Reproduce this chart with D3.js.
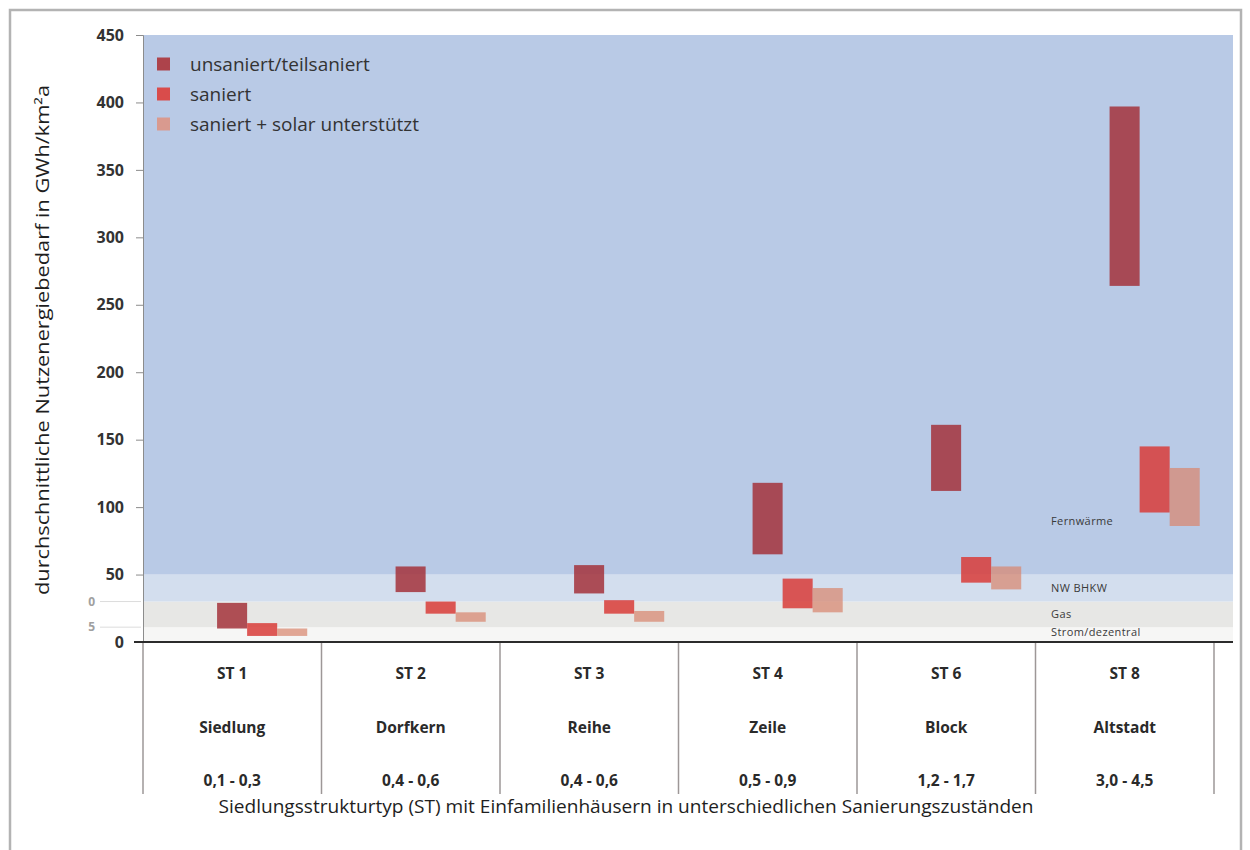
<!DOCTYPE html>
<html>
<head>
<meta charset="utf-8">
<script src="https://cdn.jsdelivr.net/npm/d3@7"></script>
<style>
  html, body { margin: 0; padding: 0; background: #ffffff; }
  svg { display: block; font-family: "Open Sans", "DejaVu Sans", sans-serif; }
</style>
</head>
<body>
<svg id="chart" width="1250" height="850"></svg>
<script>
// ---------- data ----------
const categories = ["ST 1", "ST 2", "ST 3", "ST 4", "ST 6", "ST 8"];
const typeNames = ["Siedlung", "Dorfkern", "Reihe", "Zeile", "Block", "Altstadt"];
const densityRanges = ["0,1 - 0,3", "0,4 - 0,6", "0,4 - 0,6", "0,5 - 0,9", "1,2 - 1,7", "3,0 - 4,5"];
const seriesNames = ["unsaniert/teilsaniert", "saniert", "saniert + solar unterstützt"];
const unsaniertLow  = [10, 37, 36, 65, 112, 264];
const unsaniertHigh = [29, 56, 57, 118, 161, 397];
const saniertLow    = [4.5, 21, 21, 25, 44, 96];
const saniertHigh   = [14, 30, 31, 47, 63, 145];
const solarLow      = [4.5, 15, 15, 22, 39, 86];
const solarHigh     = [10, 22, 23, 40, 56, 129];
const yTicks = [0, 50, 100, 150, 200, 250, 300, 350, 400, 450];
const bandNames = ["Strom/dezentral", "Gas", "NW BHKW", "Fernwärme"];
const bandLow  = [0, 11, 30, 50];
const bandHigh = [11, 30, 50, 450];
const bandEdgeLabels = ["15", "30"];
const bandEdgeValues = [11, 30];
const yTitle = "durchschnittliche Nutzenergiebedarf in GWh/km²a";
const xTitle = "Siedlungsstrukturtyp (ST) mit Einfamilienhäusern in unterschiedlichen Sanierungszuständen";

// ---------- styles ----------
const seriesColors = ["#a3323b", "#d83c38", "#d8866f"];
const seriesOpacity = [0.85, 0.85, 0.72];
const legendColors = ["#ad434b", "#d94c4b", "#d99a8f"];
const bandColors = ["#f6f6f5", "#e7e7e5", "#d3deee", "#b9cae6"];

const svg = d3.select("#chart");

// frame
svg.append("path")
  .attr("d", "M10,850 V10 H1241 V850")
  .attr("fill", "none").attr("stroke", "#b3b3b3").attr("stroke-width", 2.5);

const plotLeft = 143, plotRight = 1233, tableRight = 1214;
const y = d3.scaleLinear().domain([0, 450]).range([642, 35]);
const x = d3.scaleBand().domain(categories).range([plotLeft, tableRight]).padding(0);
const bw = x.bandwidth();
const xs = d3.scaleBand().domain(seriesNames).range([bw * 0.415, bw * 0.92]).padding(0);

// background bands
const bands = bandNames.map((n, i) => ({ name: n, lo: bandLow[i], hi: bandHigh[i], color: bandColors[i] }));
svg.append("g").selectAll("rect").data(bands).join("rect")
  .attr("x", plotLeft)
  .attr("width", plotRight - plotLeft)
  .attr("y", d => y(d.hi))
  .attr("height", d => y(d.lo) - y(d.hi))
  .attr("fill", d => d.color);

// faint edge labels at left (cut off)
const clip = svg.append("defs").append("clipPath").attr("id", "leftclip");
clip.append("rect").attr("x", 88).attr("y", 0).attr("width", 60).attr("height", 850);
const edgeG = svg.append("g").attr("clip-path", "url(#leftclip)");
bandEdgeValues.forEach((v, i) => {
  edgeG.append("line")
    .attr("x1", 100).attr("x2", 141)
    .attr("y1", y(v)).attr("y2", y(v))
    .attr("stroke", "#dcdcdc").attr("stroke-width", 1);
  edgeG.append("text")
    .attr("x", 95).attr("y", y(v))
    .attr("dy", "0.35em")
    .attr("text-anchor", "end")
    .attr("font-size", 12).attr("font-weight", 700)
    .attr("fill", "#a0a0a0")
    .text(bandEdgeLabels[i]);
});

// band labels
const bandLabelG = svg.append("g").attr("font-size", 11).attr("fill", "#3a3a3a")
  .attr("letter-spacing", 0.4);
bands.forEach((b, i) => {
  const yy = (i === bands.length - 1) ? y(b.lo) - 53 : (y(b.lo) + y(b.hi)) / 2 + (i === 0 ? -2 : 0);
  bandLabelG.append("text")
    .attr("x", 1051).attr("y", yy).attr("dy", "0.35em")
    .text(b.name);
});

// bars
const lows = [unsaniertLow, saniertLow, solarLow];
const highs = [unsaniertHigh, saniertHigh, solarHigh];
const barData = [];
categories.forEach((c, ci) => {
  seriesNames.forEach((s, si) => {
    barData.push({ cat: c, series: s, si, lo: lows[si][ci], hi: highs[si][ci] });
  });
});
svg.append("g").selectAll("rect").data(barData).join("rect")
  .attr("x", d => x(d.cat) + xs(d.series))
  .attr("width", xs.bandwidth())
  .attr("y", d => y(d.hi))
  .attr("height", d => y(d.lo) - y(d.hi))
  .attr("fill", d => seriesColors[d.si])
  .attr("fill-opacity", d => seriesOpacity[d.si]);

// y axis
const yAxis = d3.axisLeft(y).tickValues(yTicks).tickSize(7).tickPadding(12);
const yg = svg.append("g").attr("transform", `translate(${plotLeft},0)`).call(yAxis);
yg.select(".domain").attr("stroke", "#8c8c8c").attr("stroke-width", 1);
yg.selectAll(".tick line").attr("stroke", "#8c8c8c");
yg.selectAll(".tick text")
  .attr("font-size", 16).attr("font-weight", 700)
  .attr("fill", "#333").attr("font-family", "'Open Sans', sans-serif");

// x axis baseline
svg.append("line")
  .attr("x1", 134).attr("x2", plotRight)
  .attr("y1", y(0)).attr("y2", y(0))
  .attr("stroke", "#2b2b2b").attr("stroke-width", 2.2);

// table vertical lines
const edges = categories.map(c => x(c)).concat([tableRight]);
svg.append("g").selectAll("line").data(edges).join("line")
  .attr("x1", d => d).attr("x2", d => d)
  .attr("y1", y(0) + 1).attr("y2", 794)
  .attr("stroke", "#9d9797").attr("stroke-width", 1.5);

// table texts
const rows = [categories, typeNames, densityRanges];
const rowY = [674, 728, 781];
const tableG = svg.append("g")
  .attr("font-size", 15.5).attr("font-weight", 700)
  .attr("fill", "#2a2a2a").attr("text-anchor", "middle");
rows.forEach((row, ri) => {
  tableG.selectAll(null).data(row).join("text")
    .attr("x", (d, i) => x(categories[i]) + bw / 2)
    .attr("y", rowY[ri])
    .attr("dy", "0.35em")
    .text(d => d);
});

// legend
const legend = svg.append("g").attr("font-size", 19).attr("fill", "#333");
seriesNames.forEach((s, i) => {
  const cy = 64 + i * 30;
  legend.append("rect")
    .attr("x", 157).attr("y", cy - 6.5)
    .attr("width", 13).attr("height", 13)
    .attr("fill", legendColors[i]);
  legend.append("text")
    .attr("x", 190).attr("y", cy).attr("dy", "0.35em")
    .text(s);
});

// axis titles
svg.append("text")
  .attr("transform", "translate(49,340) rotate(-90)")
  .attr("text-anchor", "middle")
  .attr("font-size", 17.5).attr("fill", "#1e1e1e")
  .attr("textLength", 510).attr("lengthAdjust", "spacingAndGlyphs")
  .text(yTitle);

svg.append("text")
  .attr("x", 626).attr("y", 813)
  .attr("text-anchor", "middle")
  .attr("font-size", 18).attr("fill", "#1e1e1e")
  .attr("textLength", 815).attr("lengthAdjust", "spacingAndGlyphs")
  .text(xTitle);
</script>
</body>
</html>
